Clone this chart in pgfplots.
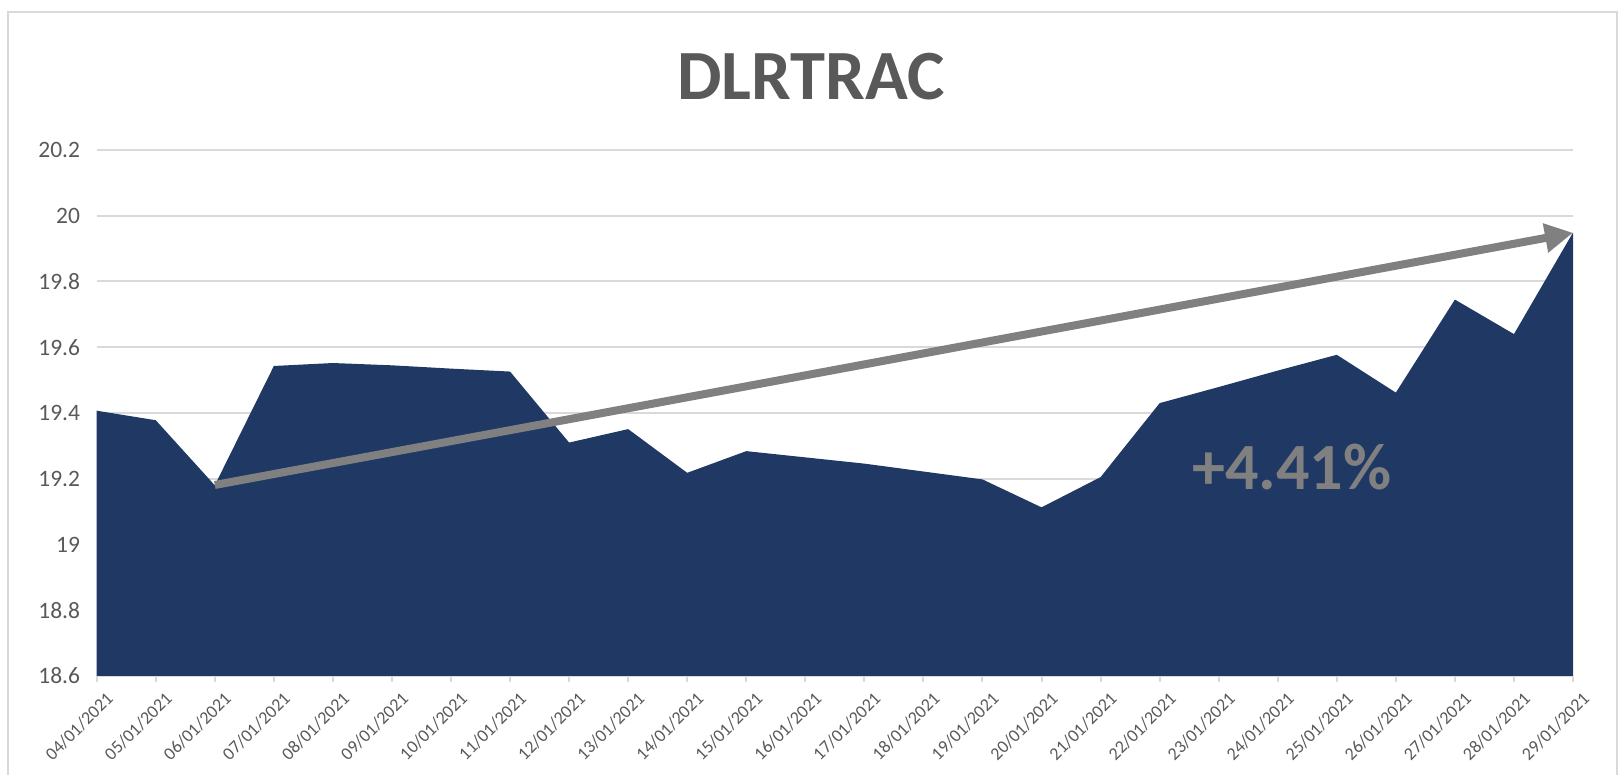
\documentclass[border=0pt]{standalone}
\usepackage{fontspec}
\setmainfont{Carlito}
\usepackage{pgfplots}
\usepackage{pgfplotstable}
\pgfplotsset{compat=1.18}
\usetikzlibrary{arrows.meta}
\definecolor{navy}{HTML}{203864}
\definecolor{txt}{HTML}{595959}
\definecolor{gridc}{HTML}{D9D9D9}
\definecolor{arr}{HTML}{808080}

\pgfplotstableread{
x y
0 19.407
1 19.378
2 19.180
3 19.543
4 19.552
5 19.545
6 19.535
7 19.526
8 19.310
9 19.351
10 19.218
11 19.284
12 19.265
13 19.246
14 19.222
15 19.198
16 19.113
17 19.205
18 19.430
19 19.479
20 19.529
21 19.577
22 19.462
23 19.745
24 19.640
25 19.949
}\datatable

\begin{document}
\begin{tikzpicture}
\begin{axis}[
  at={(0pt,0pt)}, anchor=south west,
  scale only axis, width=738.15pt, height=263pt,
  xmin=0, xmax=25, ymin=18.6, ymax=20.2,
  axis x line*=bottom, axis y line*=left,
  x axis line style={draw=gridc, line width=1pt, -},
  y axis line style={draw=none},
  xtick={0,...,25},
  xticklabels={04/01/2021,05/01/2021,06/01/2021,07/01/2021,08/01/2021,09/01/2021,10/01/2021,11/01/2021,12/01/2021,13/01/2021,14/01/2021,15/01/2021,16/01/2021,17/01/2021,18/01/2021,19/01/2021,20/01/2021,21/01/2021,22/01/2021,23/01/2021,24/01/2021,25/01/2021,26/01/2021,27/01/2021,28/01/2021,29/01/2021},
  ytick={18.6,18.8,19,19.2,19.4,19.6,19.8,20,20.2},
  yticklabels={18.6,18.8,19,19.2,19.4,19.6,19.8,20,20.2},
  ymajorgrids,
  major grid style={draw=gridc, line width=1pt},
  tick align=outside,
  major tick length=3pt,
  xtick style={draw=gridc, line width=1pt},
  ytick style={draw=none},
  xticklabel style={rotate=45, anchor=east, font=\fontsize{9}{10}\selectfont, text=txt, inner sep=1pt, yshift=-9.5pt, xshift=1pt},
  yticklabel style={anchor=east, font=\fontsize{11.75}{13}\selectfont, text=txt, xshift=-1.8pt},
]
\addplot[fill=navy, draw=none] table[x=x, y=y] {\datatable} \closedcycle;
\draw[arr, line width=4pt, -{Triangle[length=14pt, width=14pt]}] (axis cs:2,19.181) -- (axis cs:25,19.948);
\node[anchor=base, text=arr, font=\bfseries\fontsize{33}{36}\selectfont, inner sep=0pt] at (axis cs:20.24,19.166) {+4.41\%};
\end{axis}
\node[anchor=base, text=txt, font=\bfseries\fontsize{35.3}{38}\selectfont, inner sep=0pt] at (357.15pt,288pt) {DLRTRAC};
\draw[gridc, line width=1pt] (-44.35pt,-80pt) rectangle (760.15pt,332pt);
\pgfresetboundingbox
\useasboundingbox (-48.35pt,-49.5pt) rectangle (763.15pt,338pt);
\end{tikzpicture}
\end{document}
